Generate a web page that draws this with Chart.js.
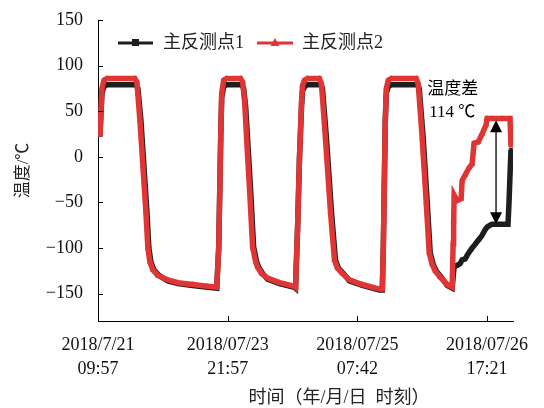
<!DOCTYPE html>
<html>
<head>
<meta charset="utf-8">
<script src="https://cdn.jsdelivr.net/npm/chart.js@4"></script>
<style>
  body { margin: 0; background: #fff; }
</style>
</head>
<body>
<canvas id="tempChart" width="544" height="408"></canvas>
<script>
// sample index (x) and temperature (y)
var point2 = [
  [0,25],[2,25],[3,50],[4,75],[6,84],[9,86],[37,86],[39,82],[42,40],[45,-10],[48,-60],[50,-100],
  [52,-115],[55,-124],[60,-130],[70,-135],[80,-138],[95,-140],[110,-142],[119,-143],
  [121,-100],[122,-40],[123,20],[124,70],[126,84],[129,86],[143,86],[145,82],[147,60],[150,0],
  [152,-37],[155,-99],[158,-115],[160,-121],[164,-128],[170,-133],[182,-138],[197,-142],
  [198,-143],[200,-80],[202,0],[204,60],[205,78],[207,84],[210,86],[222,86],[224,80],[228,20],
  [233,-60],[237,-113],[240,-122],[245,-128],[252,-135],[265,-140],[282,-145],[285,-145],
  [286,-100],[287,-30],[288,40],[289,75],[291,84],[294,86],[319,86],[321,80],[325,20],
  [329,-50],[332,-105],[335,-118],[338,-125],[343,-132],[350,-140],[355,-143],
  [356,-95],[356.5,-70],[357,-42],[360,-48],[364,-46],[365,-26],[368,-20],[372,-12],[375,-8],
  [377,15],[381,16],[385,25],[389,35],[390,42],[395,42],[405,42],[413,42],[414,12]
];
var point1 = [
  [0,25],[2,25],[3,48],[4,70],[6,77],[9,79],[38,79],[40,75],[43,40],[46,-10],[49,-60],[51,-100],
  [53,-115],[56,-124],[61,-130],[70,-136],[80,-139],[95,-141],[110,-143],[119,-144],
  [121,-100],[122,-40],[123,20],[124,65],[126,77],[129,79],[144,79],[146,75],[148,55],[151,0],
  [153,-37],[156,-99],[159,-115],[161,-121],[165,-128],[170,-134],[182,-139],[197,-143],
  [198,-144],[200,-80],[202,0],[204,55],[205,72],[207,77],[210,79],[223,79],[225,75],[229,20],
  [234,-60],[238,-113],[241,-122],[246,-128],[252,-136],[265,-141],[282,-146],[285,-146],
  [286,-100],[287,-30],[288,40],[289,70],[291,77],[294,79],[320,79],[322,75],[326,20],
  [330,-50],[333,-105],[336,-118],[339,-125],[344,-132],[350,-141],[355,-144],
  [357,-120],[360,-119],[363,-117],[365,-113],[368,-112],[370,-108],[373,-103],[375,-100],
  [378,-96],[380,-93],[383,-89],[385,-86],[388,-80],[390,-77],[393,-75],[395,-74],[405,-74],
  [411,-74],[412,-50],[413,-20],[414,8]
];

var seriesNames = ['主反测点1', '主反测点2'];
var xTickPos = [0, 130, 260, 390];
var xTickLabels = [['2018/7/21', '09:57'], ['2018/07/23', '21:57'], ['2018/07/25', '07:42'], ['2018/07/26', '17:21']];
var yTickPos = [150, 100, 50, 0, -50, -100, -150];
var diffLabel = ['温度差', '114 ℃'];
var diffTop = 40;
var diffBottom = -74;
var diffAt = 399;

var black = '#1e1e1e';
var red = '#e03535';
var font = "'Liberation Serif', 'Noto Sans CJK SC', serif";

function toXY(arr) {
  return arr.map(function (p) { return { x: p[0], y: p[1] }; });
}

var extras = {
  id: 'extras',
  afterDraw: function (chart) {
    var ctx = chart.ctx;
    var xs = chart.scales.x, ys = chart.scales.y;
    ctx.save();
    ctx.strokeStyle = '#000';
    ctx.lineWidth = 1;
    // inward tick marks
    yTickPos.forEach(function (v) {
      var py = Math.round(ys.getPixelForValue(v)) + 0.5;
      ctx.beginPath(); ctx.moveTo(xs.left, py); ctx.lineTo(xs.left + 5, py); ctx.stroke();
    });
    xTickPos.forEach(function (v) {
      if (v === 0) return;
      var px = Math.round(xs.getPixelForValue(v)) + 0.5;
      ctx.beginPath(); ctx.moveTo(px, ys.bottom); ctx.lineTo(px, ys.bottom - 5); ctx.stroke();
    });

    // double arrow for the temperature gap
    var ax = xs.getPixelForValue(diffAt);
    var top = ys.getPixelForValue(diffTop), bot = ys.getPixelForValue(diffBottom);
    ctx.strokeStyle = '#000'; ctx.fillStyle = '#000'; ctx.lineWidth = 1.3;
    ctx.beginPath(); ctx.moveTo(ax, top + 8); ctx.lineTo(ax, bot - 8); ctx.stroke();
    ctx.beginPath(); ctx.moveTo(ax, top); ctx.lineTo(ax - 6, top + 12); ctx.lineTo(ax + 6, top + 12); ctx.closePath(); ctx.fill();
    ctx.beginPath(); ctx.moveTo(ax, bot); ctx.lineTo(ax - 6, bot - 12); ctx.lineTo(ax + 6, bot - 12); ctx.closePath(); ctx.fill();

    // annotation text
    ctx.font = '17px ' + font;
    ctx.textAlign = 'left'; ctx.textBaseline = 'middle';
    ctx.fillText(diffLabel[0], xs.getPixelForValue(330), ys.getPixelForValue(74));
    ctx.fillText(diffLabel[1], xs.getPixelForValue(332), ys.getPixelForValue(49));

    // legend
    var ly = 43;
    ctx.font = '18px ' + font;
    ctx.lineWidth = 3;
    ctx.strokeStyle = black; ctx.fillStyle = black;
    ctx.beginPath(); ctx.moveTo(118, ly); ctx.lineTo(153, ly); ctx.stroke();
    ctx.fillRect(132, ly - 4, 7, 7);
    ctx.fillStyle = '#222';
    ctx.fillText(seriesNames[0], 163, ly);
    ctx.strokeStyle = red; ctx.fillStyle = red;
    ctx.beginPath(); ctx.moveTo(257, ly); ctx.lineTo(293, ly); ctx.stroke();
    ctx.beginPath(); ctx.moveTo(275, ly - 5); ctx.lineTo(279.5, ly + 3); ctx.lineTo(270.5, ly + 3); ctx.closePath(); ctx.fill();
    ctx.fillStyle = '#222';
    ctx.fillText(seriesNames[1], 302, ly);

    // x axis title
    ctx.textAlign = 'center';
    ctx.fillText('时间（年/月/日  时刻）', 339, 398);
    ctx.restore();
  }
};

var ctx = document.getElementById('tempChart').getContext('2d');
var chart = new Chart(ctx, {
  type: 'line',
  data: {
    datasets: [
      {
        label: seriesNames[0],
        data: toXY(point1),
        borderColor: black,
        backgroundColor: black,
        borderWidth: 5.5,
        pointStyle: 'rect',
        pointRadius: 2.5,
        pointBorderWidth: 0,
        tension: 0,
        order: 1
      },
      {
        label: seriesNames[1],
        data: toXY(point2),
        borderColor: red,
        backgroundColor: red,
        borderWidth: 5.5,
        pointStyle: 'triangle',
        pointRadius: 3.5,
        pointBorderWidth: 0,
        tension: 0,
        order: 0
      }
    ]
  },
  options: {
    responsive: false,
    devicePixelRatio: 1,
    animation: false,
    layout: { padding: { left: 0, top: 20, right: 31, bottom: 0 } },
    plugins: { legend: { display: false }, tooltip: { enabled: false } },
    scales: {
      x: {
        type: 'linear',
        min: 0,
        max: 416,
        grid: { drawOnChartArea: false, drawTicks: false },
        border: { color: '#000', width: 1 },
        afterBuildTicks: function (s) { s.ticks = xTickPos.map(function (v) { return { value: v }; }); },
        afterFit: function (s) { s.height = 87; s.paddingLeft = 0; s.paddingRight = 0; },
        ticks: {
          autoSkip: false,
          maxRotation: 0,
          padding: 13,
          color: '#111',
          font: { family: font, size: 18, lineHeight: 1.3 },
          callback: function (v) { return xTickLabels[xTickPos.indexOf(v)]; }
        }
      },
      y: {
        min: -180,
        max: 150,
        grid: { drawOnChartArea: false, drawTicks: false },
        border: { color: '#000', width: 1 },
        afterBuildTicks: function (s) { s.ticks = yTickPos.map(function (v) { return { value: v }; }); },
        afterFit: function (s) { s.width = 98; s.paddingTop = 0; s.paddingBottom = 0; },
        title: { display: true, text: '温度/℃', color: '#222', font: { family: font, size: 17 }, padding: { top: 13, bottom: 0 } },
        ticks: {
          padding: 15,
          color: '#111',
          font: { family: font, size: 18 },
          callback: function (v) { return v < 0 ? '\u2212' + Math.abs(v) : String(v); }
        }
      }
    }
  },
  plugins: [extras]
});
</script>
</body>
</html>
